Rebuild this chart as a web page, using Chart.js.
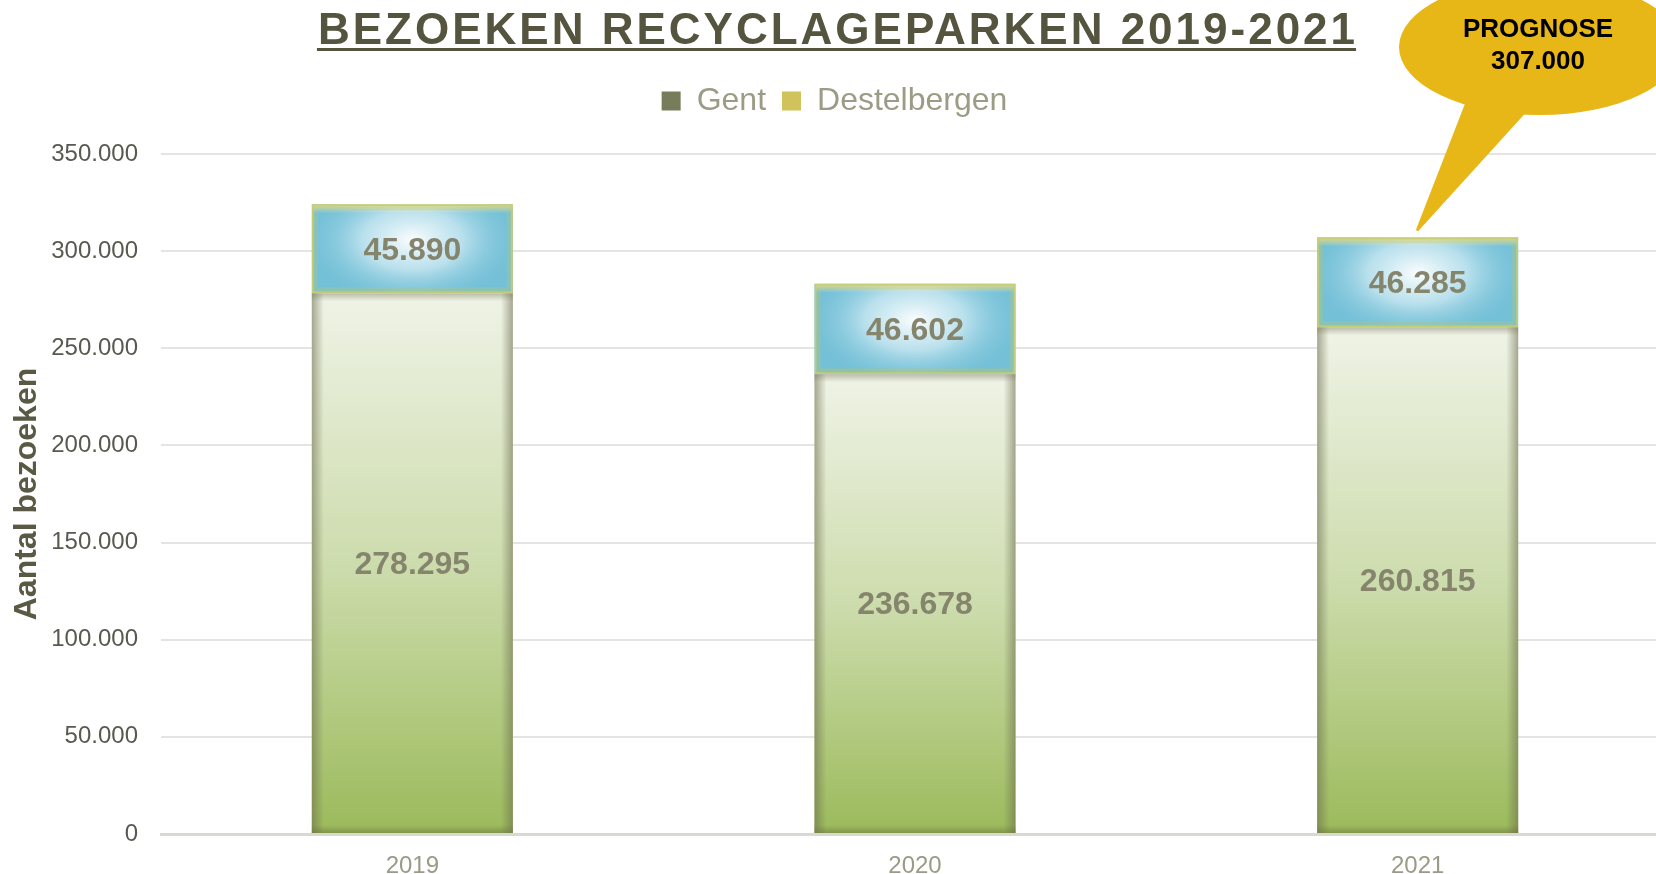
<!DOCTYPE html>
<html>
<head>
<meta charset="utf-8">
<title>Bezoeken recyclageparken 2019-2021</title>
<script src="https://cdn.jsdelivr.net/npm/chart.js@4"></script>
<style>
  html, body { margin: 0; padding: 0; background: #fff; overflow: hidden; }
  #wrap { position: absolute; left: 0; top: 0; }
</style>
</head>
<body>
<div id="wrap"><canvas id="visits" width="1669" height="874"></canvas></div>
<script>
const years = ["2019", "2020", "2021"];
const gent = [278295, 236678, 260815];
const destelbergen = [45890, 46602, 46285];
const prognose2021 = 307000;
const yMax = 350000;
const yStep = 50000;

const family = "'Liberation Sans', Arial, sans-serif";
const swatch = ["#777c5b", "#d0c35b"];

function fmt(v){
  return String(v).replace(/\B(?=(\d{3})+(?!\d))/g, ".");
}

function gentFill(c){
  const y = c.chart.scales.y;
  const top = y ? y.getPixelForValue(gent[c.dataIndex]) : NaN;
  const base = y ? y.getPixelForValue(0) : NaN;
  if (!isFinite(top) || !isFinite(base) || top === base) return "#c6d8a2";
  const g = c.chart.ctx.createLinearGradient(0, top, 0, base);
  g.addColorStop(0, "#eff3e6");
  g.addColorStop(0.5, "#cddcad");
  g.addColorStop(1, "#9bba5b");
  return g;
}

const barShade = {
  id: "barShade",
  afterDatasetsDraw(chart){
    const ctx = chart.ctx;

    chart.getDatasetMeta(0).data.forEach(bar => {
      const {x, y, base, width} = bar.getProps(["x", "y", "base", "width"], true);
      const l = x - width / 2, r = x + width / 2, h = base - y;
      ctx.save();
      let g = ctx.createLinearGradient(l, 0, l + 12, 0);
      g.addColorStop(0, "rgba(105,105,75,0.55)");
      g.addColorStop(1, "rgba(105,105,75,0)");
      ctx.fillStyle = g;
      ctx.fillRect(l, y, 12, h);
      g = ctx.createLinearGradient(r, 0, r - 12, 0);
      g.addColorStop(0, "rgba(105,105,75,0.55)");
      g.addColorStop(1, "rgba(105,105,75,0)");
      ctx.fillStyle = g;
      ctx.fillRect(r - 12, y, 12, h);
      g = ctx.createLinearGradient(0, base, 0, base - 8);
      g.addColorStop(0, "rgba(105,115,60,0.5)");
      g.addColorStop(1, "rgba(105,115,60,0)");
      ctx.fillStyle = g;
      ctx.fillRect(l, base - 8, width, 8);
      g = ctx.createLinearGradient(0, y, 0, y + 8);
      g.addColorStop(0, "rgba(120,120,95,0.45)");
      g.addColorStop(1, "rgba(120,120,95,0)");
      ctx.fillStyle = g;
      ctx.fillRect(l, y, width, 8);
      ctx.restore();
    });

    chart.getDatasetMeta(1).data.forEach(bar => {
      const {x, y, base, width} = bar.getProps(["x", "y", "base", "width"], true);
      const l = x - width / 2, h = base - y;
      ctx.save();
      ctx.beginPath();
      ctx.rect(l, y, width, h);
      ctx.clip();
      ctx.save();
      ctx.translate(x, y + h * 0.4);
      ctx.scale(width * 0.55, h * 0.75);
      const g = ctx.createRadialGradient(0, 0, 0, 0, 0, 1);
      g.addColorStop(0, "rgba(255,255,255,0.97)");
      g.addColorStop(0.45, "rgba(215,238,246,0.7)");
      g.addColorStop(1, "rgba(116,192,215,0)");
      ctx.fillStyle = g;
      ctx.fillRect(-2, -2, 4, 4);
      ctx.restore();
      const t = ctx.createLinearGradient(0, y, 0, y + 9);
      t.addColorStop(0, "rgba(248,232,165,0.85)");
      t.addColorStop(1, "rgba(248,232,165,0)");
      ctx.fillStyle = t;
      ctx.fillRect(l, y, width, 9);
      ctx.strokeStyle = "rgba(190,200,100,0.3)";
      ctx.lineWidth = 6;
      ctx.strokeRect(l + 3, y + 3, width - 6, h - 6);
      ctx.strokeStyle = "rgba(200,205,110,0.85)";
      ctx.lineWidth = 2;
      ctx.strokeRect(l + 1, y + 1, width - 2, h - 2);
      ctx.restore();
    });
  }
};

const valueLabels = {
  id: "valueLabels",
  afterDatasetsDraw(chart){
    const ctx = chart.ctx;
    ctx.save();
    ctx.font = "bold 32px " + family;
    ctx.fillStyle = "#85846c";
    ctx.textAlign = "center";
    ctx.textBaseline = "middle";
    chart.data.datasets.forEach((ds, i) => {
      chart.getDatasetMeta(i).data.forEach((bar, j) => {
        const {x, y, base} = bar.getProps(["x", "y", "base"], true);
        ctx.fillText(fmt(ds.data[j]), x, (y + base) / 2 + 2);
      });
    });
    ctx.restore();
  }
};

const headline = {
  id: "headline",
  afterDraw(chart){
    const ctx = chart.ctx;
    const text = "BEZOEKEN RECYCLAGEPARKEN 2019-2021";
    ctx.save();
    ctx.font = "bold 44px " + family;
    ctx.letterSpacing = "3px";
    ctx.fillStyle = "#55543f";
    ctx.textBaseline = "alphabetic";
    const w = ctx.measureText(text).width - 3;
    const x0 = chart.width / 2 + 2 - w / 2;
    ctx.fillText(text, x0, 44);
    ctx.fillRect(x0 - 1, 48, w + 2, 3);
    ctx.restore();
  }
};

const callout = {
  id: "callout",
  afterDraw(chart){
    const ctx = chart.ctx;
    const tipX = chart.scales.x.getPixelForValue(2);
    const tipY = chart.scales.y.getPixelForValue(prognose2021) - 8;
    ctx.save();
    ctx.fillStyle = "#e7b617";
    ctx.strokeStyle = "#e7b617";
    ctx.beginPath();
    ctx.ellipse(1540, 47, 141, 68, 0, 0, Math.PI * 2);
    ctx.fill();
    ctx.beginPath();
    ctx.moveTo(1468, 100);
    ctx.lineTo(tipX, tipY);
    ctx.lineTo(1528, 108);
    ctx.closePath();
    ctx.lineJoin = "round";
    ctx.lineWidth = 3;
    ctx.fill();
    ctx.stroke();
    ctx.fillStyle = "#000";
    ctx.font = "bold 26px " + family;
    ctx.textAlign = "center";
    ctx.textBaseline = "middle";
    ctx.fillText("PROGNOSE", 1538, 30);
    ctx.fillText(fmt(prognose2021), 1538, 62);
    ctx.restore();
  }
};

new Chart(document.getElementById("visits"), {
  type: "bar",
  data: {
    labels: years,
    datasets: [
      {
        label: "Gent",
        data: gent,
        backgroundColor: gentFill,
        borderWidth: 0,
        categoryPercentage: 1,
        barPercentage: 0.4
      },
      {
        label: "Destelbergen",
        data: destelbergen,
        backgroundColor: "#74c0d7",
        borderWidth: 0,
        categoryPercentage: 1,
        barPercentage: 0.4
      }
    ]
  },
  options: {
    responsive: false,
    animation: false,
    layout: { padding: { top: 69, left: 0, right: 0, bottom: 0 } },
    plugins: {
      tooltip: { enabled: false },
      legend: {
        position: "top",
        labels: {
          font: { family: family, size: 32 },
          color: "#9c9c86",
          boxWidth: 19,
          boxHeight: 19,
          padding: 16,
          generateLabels: chart => Chart.defaults.plugins.legend.labels.generateLabels(chart)
            .map((item, i) => Object.assign(item, { fillStyle: swatch[i], strokeStyle: swatch[i], lineWidth: 0 }))
        }
      },
      // empty spacer between legend and plot
      subtitle: {
        display: true,
        text: "",
        position: "top",
        weight: 500,
        font: { size: 10 },
        padding: { top: 8, bottom: 7 }
      }
    },
    scales: {
      x: {
        stacked: true,
        grid: { display: false },
        border: { color: "#d9d9d1", width: 3 },
        ticks: {
          font: { family: family, size: 24 },
          color: "#9a9a86",
          padding: 10
        },
        afterFit: s => { s.height = 40; }
      },
      y: {
        stacked: true,
        min: 0,
        max: yMax,
        border: { display: false },
        grid: { color: "#e4e4e0", lineWidth: 2, drawTicks: false },
        afterBuildTicks: s => {
          const ticks = [];
          for (let v = 0; v <= yMax; v += yStep) ticks.push({ value: v });
          s.ticks = ticks;
        },
        ticks: {
          font: { family: family, size: 24 },
          color: "#595950",
          padding: 23,
          callback: v => fmt(v)
        },
        title: {
          display: true,
          text: "Aantal bezoeken",
          color: "#595944",
          font: { family: family, size: 32, weight: "bold" },
          padding: { top: 8, bottom: 0 }
        },
        afterFit: s => { s.width = 161; }
      }
    }
  },
  plugins: [barShade, valueLabels, headline, callout]
});
</script>
</body>
</html>
